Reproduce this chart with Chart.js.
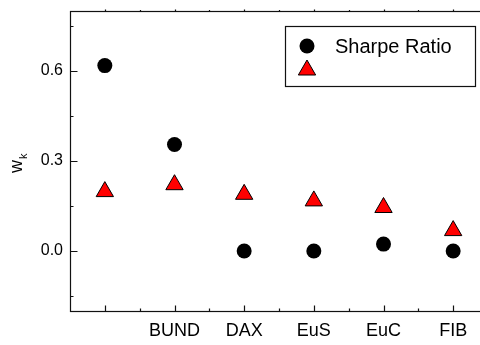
<!DOCTYPE html>
<html><head><meta charset="utf-8">
<script src="https://cdn.jsdelivr.net/npm/chart.js@4/dist/chart.umd.min.js"></script>
<style>
html,body{margin:0;padding:0;background:#fff;overflow:hidden;width:480px;height:345px;}
#wrap{width:500px;height:345px;}
</style></head>
<body><div id="wrap"><canvas id="c" width="500" height="345"></canvas></div>
<script>
const categories = ['', 'BUND', 'DAX', 'EuS', 'EuC', 'FIB'];
const sharpeRatio = [0.618, 0.355, 0.0, 0.0, 0.023, 0.0];
const secondSeries = [0.198, 0.221, 0.189, 0.167, 0.145, 0.068];
const yTickValues = [0.0, 0.3, 0.6];
const yMinorValues = [-0.15, 0.15, 0.45, 0.75];
const legendLabel = 'Sharpe Ratio';

const FONT = "'Liberation Sans', Arial, sans-serif";

const framePlugin = {
  id: 'frame',
  beforeDatasetsDraw(chart) {
    const ctx = chart.ctx, a = chart.chartArea;
    const xs = chart.scales.x, ys = chart.scales.y;
    ctx.save();
    ctx.strokeStyle = '#111';
    ctx.lineWidth = 1.2;
    const L = Math.round(a.left) + 0.5, R = Math.round(a.right) + 0.5;
    const T = Math.round(a.top) + 0.5, B = Math.round(a.bottom) + 0.5;
    ctx.strokeRect(L, T, R - L, B - T);
    ctx.beginPath();
    const n = categories.length;
    for (let i = 0; i < n; i++) {
      const px = Math.round(xs.getPixelForValue(i)) + 0.5;
      ctx.moveTo(px, B); ctx.lineTo(px, B - 6);
      ctx.moveTo(px, T); ctx.lineTo(px, T - 2);
      if (i < n - 1) {
        const mx = Math.round((xs.getPixelForValue(i) + xs.getPixelForValue(i + 1)) / 2) + 0.5;
        ctx.moveTo(mx, B); ctx.lineTo(mx, B - 3);
        ctx.moveTo(mx, T); ctx.lineTo(mx, T - 1.5);
      }
    }
    yTickValues.forEach(v => {
      const py = Math.round(ys.getPixelForValue(v)) + 0.5;
      ctx.moveTo(L, py); ctx.lineTo(L + 7, py);
      ctx.moveTo(R, py); ctx.lineTo(R - 7, py);
    });
    yMinorValues.forEach(v => {
      const py = Math.round(ys.getPixelForValue(v)) + 0.5;
      ctx.moveTo(L, py); ctx.lineTo(L + 3, py);
      ctx.moveTo(R, py); ctx.lineTo(R - 3, py);
    });
    ctx.stroke();
    ctx.restore();
  },
  afterDraw(chart) {
    const ctx = chart.ctx;
    ctx.save();
    ctx.fillStyle = '#000';
    ctx.translate(22, 173);
    ctx.rotate(-Math.PI / 2);
    ctx.font = '18px ' + FONT;
    ctx.textBaseline = 'alphabetic';
    ctx.textAlign = 'left';
    ctx.fillText('w', 0, 0);
    const ww = ctx.measureText('w').width;
    ctx.font = '11px ' + FONT;
    ctx.fillText('k', ww + 1, 5);
    ctx.restore();

    ctx.save();
    ctx.strokeStyle = '#111';
    ctx.lineWidth = 1.2;
    ctx.fillStyle = '#fff';
    ctx.fillRect(285.5, 26.5, 190, 60);
    ctx.strokeRect(285.5, 26.5, 190, 60);
    const ds = chart.data.datasets;
    ctx.fillStyle = ds[0].backgroundColor; ctx.strokeStyle = ds[0].borderColor;
    Chart.helpers.drawPoint(ctx, {pointStyle: 'circle', radius: 7.5, borderWidth: 0, rotation: 0}, 307, 46);
    ctx.fillStyle = ds[1].backgroundColor; ctx.strokeStyle = ds[1].borderColor; ctx.lineWidth = 1;
    Chart.helpers.drawPoint(ctx, {pointStyle: 'triangle', radius: 10, borderWidth: 1, rotation: 0}, 307, 70);
    ctx.fillStyle = '#000';
    ctx.font = '20px ' + FONT;
    ctx.textBaseline = 'alphabetic';
    ctx.fillText(legendLabel, 335, 53);
    ctx.restore();
  }
};

new Chart(document.getElementById('c'), {
  type: 'line',
  data: {
    labels: categories,
    datasets: [
      {
        label: legendLabel,
        data: sharpeRatio,
        showLine: false,
        pointStyle: 'circle',
        pointRadius: 7.5,
        pointBackgroundColor: '#000',
        pointBorderColor: '#000',
        backgroundColor: '#000',
        borderColor: '#000',
        pointBorderWidth: 0
      },
      {
        label: '',
        data: secondSeries,
        showLine: false,
        pointStyle: 'triangle',
        pointRadius: 10,
        pointBackgroundColor: '#ff0000',
        pointBorderColor: '#000',
        backgroundColor: '#ff0000',
        borderColor: '#000',
        pointBorderWidth: 1
      }
    ]
  },
  options: {
    responsive: false,
    animation: false,
    devicePixelRatio: 1,
    layout: {padding: {top: 7, right: 12, left: 0, bottom: 0}},
    plugins: {legend: {display: false}, tooltip: {enabled: false}},
    scales: {
      x: {
        type: 'category',
        offset: true,
        grid: {display: false, drawTicks: false},
        border: {display: false},
        ticks: {color: '#000', font: {family: FONT, size: 18}, padding: 9, maxRotation: 0, autoSkip: false},
        afterFit(s) { s.height = 34; s.paddingLeft = 0; s.paddingRight = 0; }
      },
      y: {
        min: -0.2, max: 0.8,
        grid: {display: false, drawTicks: false},
        border: {display: false},
        afterBuildTicks(s) { s.ticks = yTickValues.map(v => ({value: v})); },
        ticks: {color: '#000', font: {family: FONT, size: 16}, padding: 7,
          callback: v => Number(v).toFixed(1)},
        afterFit(s) { s.width = 70; s.paddingTop = 0; s.paddingBottom = 0; }
      }
    }
  },
  plugins: [framePlugin]
});
</script></body></html>
